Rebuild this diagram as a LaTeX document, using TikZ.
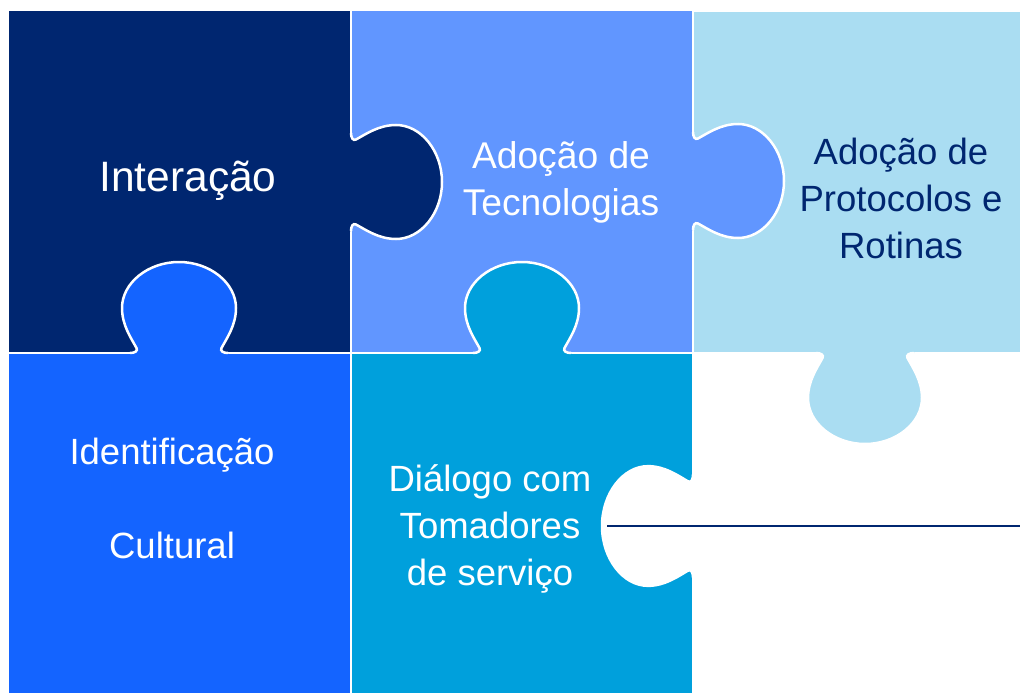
\documentclass[tikz,border=0pt]{standalone}
\usepackage{fontspec}
\setmainfont{Liberation Sans}
\definecolor{navy}{RGB}{0,38,112}
\definecolor{medblue}{RGB}{97,150,255}
\definecolor{lightblue}{RGB}{170,221,242}
\definecolor{brightblue}{RGB}{20,100,255}
\definecolor{cyanblue}{RGB}{0,160,220}
\tikzset{
  piece/.style={draw=white, line width=2.5pt},
  txt/.style={align=center, inner sep=0pt, font=\fontsize{36.5}{47}\selectfont},
  pics/knob/.style={code={
    \fill[#1] (-6,-49) -- (0,-49) .. controls (0,-44) and (2,-41) .. (5,-42.5)
      .. controls (15,-48) and (28,-57) .. (45,-57)
      .. controls (70,-57) and (91,-31) .. (91,0)
      .. controls (91,31) and (70,57) .. (45,57)
      .. controls (28,57) and (15,48) .. (5,42.5)
      .. controls (2,41) and (0,44) .. (0,49) -- (-6,49) -- cycle;
    \draw[white, line width=2.5pt] (0,-49) .. controls (0,-44) and (2,-41) .. (5,-42.5)
      .. controls (15,-48) and (28,-57) .. (45,-57)
      .. controls (70,-57) and (91,-31) .. (91,0)
      .. controls (91,31) and (70,57) .. (45,57)
      .. controls (28,57) and (15,48) .. (5,42.5)
      .. controls (2,41) and (0,44) .. (0,49);
  }}
}
\begin{document}
\begin{tikzpicture}[x=1pt,y=-1pt]
\path[use as bounding box, fill=white] (0,0) rectangle (1020,693);
% rectangles
\path[piece, fill=navy] (8,10) rectangle (351,353);
\path[piece, fill=medblue] (351,10) rectangle (693,353);
\path[piece, fill=lightblue] (693,11) rectangle (1021,353);
\path[piece, fill=brightblue] (8,353) rectangle (351,694);
\path[piece, fill=cyanblue] (351,353) rectangle (693,694);
% knobs
\pic at (351,182) {knob=navy};
\pic[rotate=90] at (179,353) {knob=brightblue};
\pic at (693,181) {knob=medblue};
\pic[rotate=90] at (522,353) {knob=cyanblue};
\pic[rotate=-90] at (865,353) {knob=lightblue};
\pic[rotate=180, yscale=1.05] at (693,526) {knob=white};
% line
\coordinate (lineL) at (607,526);
\coordinate (lineR) at (1020,526);
\draw[navy, line width=2.3pt] (lineL) -- (lineR);
% texts
\node[txt, white, font=\fontsize{42.5}{47}\selectfont] (inter) at (188,181) {Interação};
\node[txt, white, font=\fontsize{37.2}{47}\selectfont] (adtec) at (561,182) {Adoção de\\Tecnologias};
\node[txt, navy] (adprot) at (901,198.5) {Adoção de\\Protocolos e\\Rotinas};
\node[txt, white] (ident) at (172,498.5) {Identificação\\[47pt]Cultural};
\node[txt, white] (dial) at (490,529) {Diálogo com\\Tomadores\\de serviço};
\end{tikzpicture}
\end{document}
